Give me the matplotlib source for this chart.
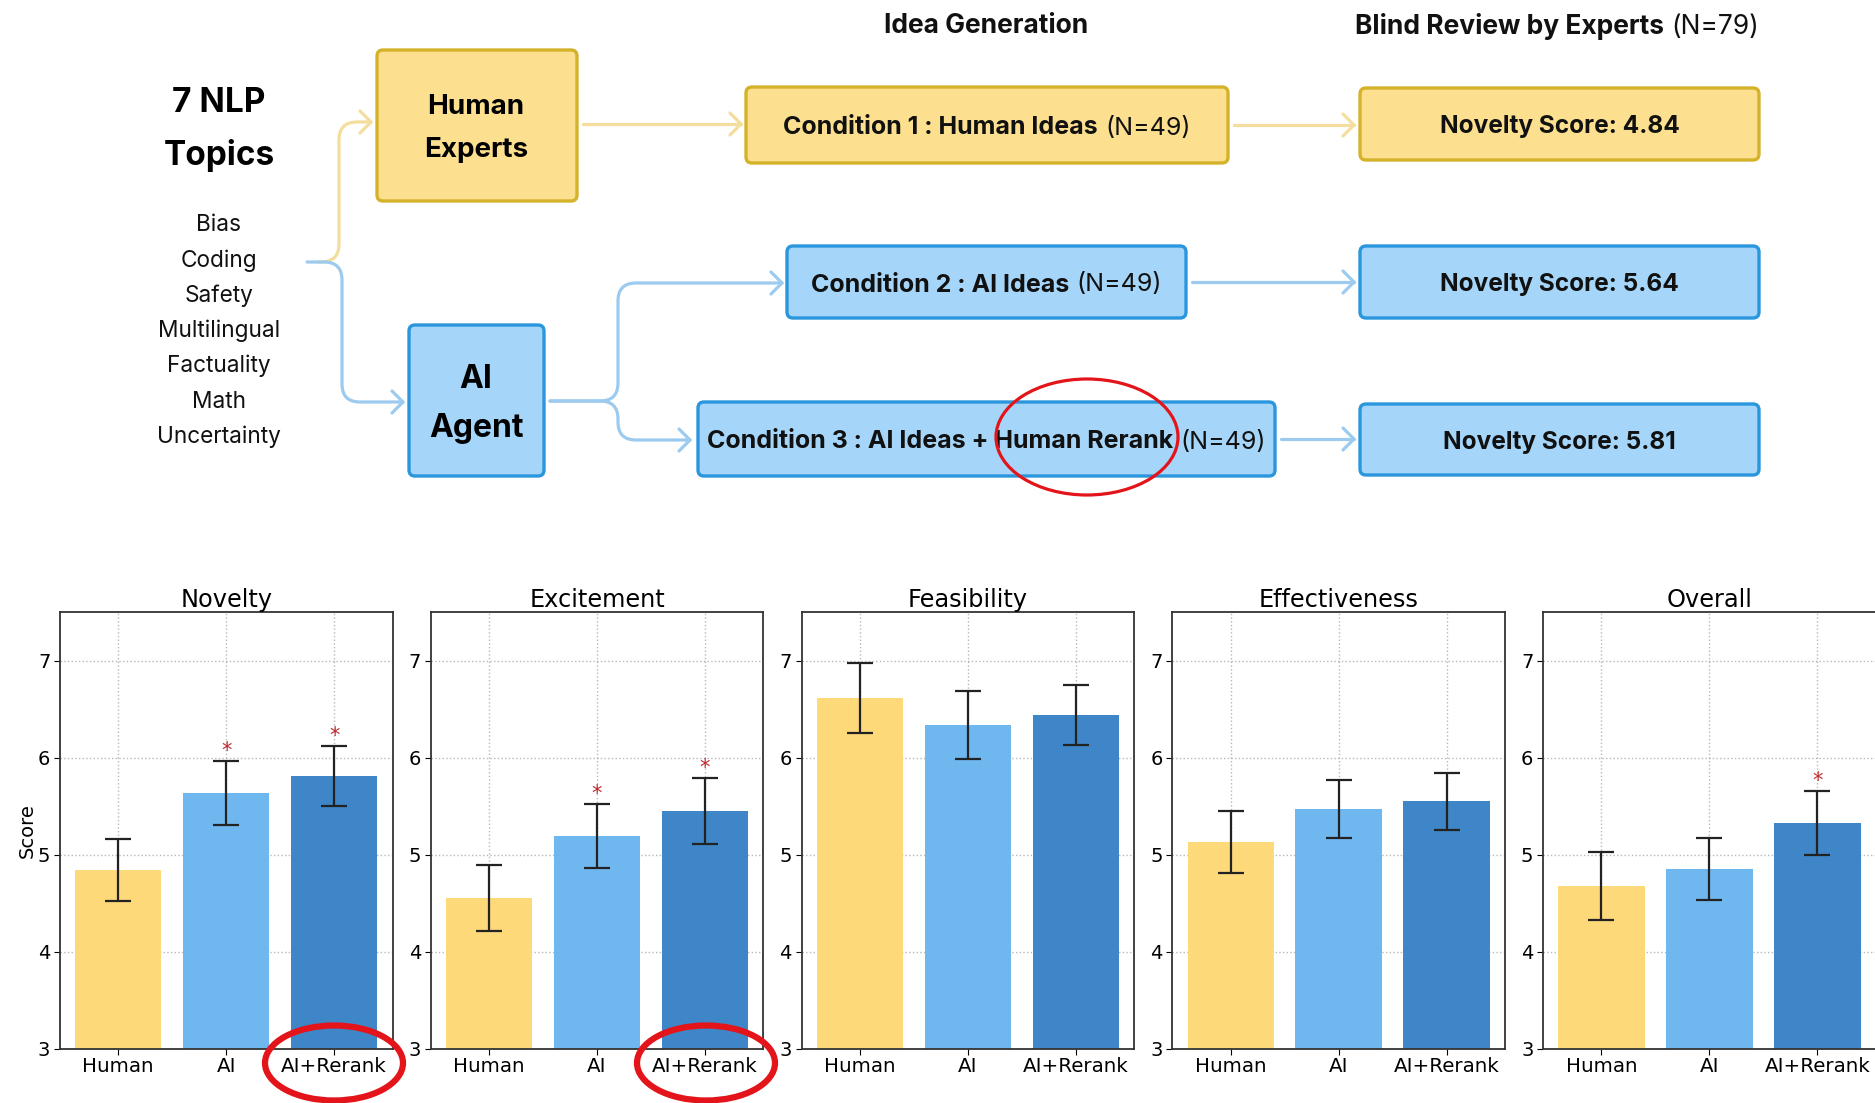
import numpy as np
import matplotlib
matplotlib.use("Agg")
import matplotlib.pyplot as plt
from matplotlib.patches import FancyBboxPatch, Ellipse, PathPatch
from matplotlib.path import Path
from matplotlib.offsetbox import TextArea, HPacker, AnnotationBbox

# ---------------- data ----------------
metrics = ["Novelty", "Excitement", "Feasibility", "Effectiveness", "Overall"]
conditions = ["Human", "AI", "AI+Rerank"]
novelty_mean = [4.84, 5.64, 5.81]
novelty_err = [0.32, 0.33, 0.31]
excitement_mean = [4.55, 5.19, 5.45]
excitement_err = [0.34, 0.33, 0.34]
feasibility_mean = [6.61, 6.34, 6.44]
feasibility_err = [0.36, 0.35, 0.31]
effectiveness_mean = [5.13, 5.47, 5.55]
effectiveness_err = [0.32, 0.30, 0.29]
overall_mean = [4.68, 4.85, 5.33]
overall_err = [0.35, 0.32, 0.33]
novelty_sig = [False, True, True]
excitement_sig = [False, True, True]
feasibility_sig = [False, False, False]
effectiveness_sig = [False, False, False]
overall_sig = [False, False, True]

topics = ["Bias", "Coding", "Safety", "Multilingual", "Factuality", "Math", "Uncertainty"]
cond_titles = ["Condition 1 : Human Ideas", "Condition 2 : AI Ideas",
               "Condition 3 : AI Ideas + Human Rerank"]
cond_n = [49, 49, 49]
box_novelty_scores = [4.84, 5.64, 5.81]
n_reviewers = 79

means = [novelty_mean, excitement_mean, feasibility_mean, effectiveness_mean, overall_mean]
errs = [novelty_err, excitement_err, feasibility_err, effectiveness_err, overall_err]
sigs = [novelty_sig, excitement_sig, feasibility_sig, effectiveness_sig, overall_sig]

bar_colors = ["#FDD97A", "#6FB7EF", "#3E86C7"]

W, H = 1875, 1103
fig = plt.figure(figsize=(W / 100, H / 100), dpi=100)
fig.patch.set_facecolor("white")

# ---------------- bar panels ----------------
left0 = 60 / W
aw = 332.5 / W
step = 370.8 / W
ab = 1 - 1049 / H
ah = (1049 - 612) / H
axes = []
for i, m in enumerate(metrics):
    ax = fig.add_axes([left0 + i * step, ab, aw, ah])
    x = np.arange(len(conditions))
    ax.bar(x, means[i], width=0.8, color=bar_colors, zorder=2)
    ax.errorbar(x, means[i], yerr=errs[i], fmt="none", ecolor="#222222",
                elinewidth=1.6, capsize=9.5, capthick=1.6, zorder=3)
    for j in range(len(conditions)):
        if sigs[i][j]:
            ax.text(x[j], means[i][j] + errs[i][j] + 0.0, "*", color="#C0282D",
                    ha="center", va="bottom", fontsize=15, zorder=4)
    ax.set_ylim(3, 7.5)
    ax.set_yticks([3, 4, 5, 6, 7])
    ax.set_xticks(x)
    ax.set_xticklabels(conditions, fontsize=14.3)
    ax.tick_params(axis="y", labelsize=14, length=4, pad=3)
    ax.tick_params(axis="x", length=4, pad=2)
    ax.grid(True, linestyle=":", color="#999999", linewidth=1.0, alpha=0.7, zorder=0)
    ax.set_axisbelow(True)
    ax.set_title(m, fontsize=17.3, pad=3)
    for s in ax.spines.values():
        s.set_color("#333333")
        s.set_linewidth(1.3)
    if i == 0:
        ax.set_ylabel("Score", fontsize=14, labelpad=1)
    axes.append(ax)

# ---------------- diagram overlay ----------------
ad = fig.add_axes([0, 0, 1, 1])
ad.set_xlim(0, W)
ad.set_ylim(H, 0)
ad.axis("off")
ad.set_zorder(10)
ad.patch.set_visible(False)

DF = ["Inter", "DejaVu Sans"]
Y_FILL, Y_EDGE, Y_LINE = "#FDE08F", "#D4B22A", "#F3DE9E"
B_FILL, B_EDGE, B_LINE = "#A5D6F9", "#2A96DD", "#9CCBEF"


def box(x0, y0, x1, y1, fc, ec):
    p = FancyBboxPatch((x0, y0), x1 - x0, y1 - y0,
                       boxstyle="round,pad=0,rounding_size=6",
                       fc=fc, ec=ec, lw=2.4, zorder=2)
    ad.add_patch(p)


def rounded(points, r):
    verts = [points[0]]
    codes = [Path.MOVETO]
    for k in range(1, len(points) - 1):
        p0, p1, p2 = (np.array(points[k - 1], float), np.array(points[k], float),
                      np.array(points[k + 1], float))
        d1 = (p1 - p0) / np.linalg.norm(p1 - p0)
        d2 = (p2 - p1) / np.linalg.norm(p2 - p1)
        a = p1 - d1 * r
        b = p1 + d2 * r
        verts += [tuple(a), tuple(p1), tuple(b)]
        codes += [Path.LINETO, Path.CURVE3, Path.CURVE3]
    verts.append(points[-1])
    codes.append(Path.LINETO)
    return Path(verts, codes)


def arrow(points, color, r=18):
    ad.add_patch(PathPatch(rounded(points, r), fc="none", ec=color, lw=2.3,
                           capstyle="round", joinstyle="round", zorder=1))
    tx, ty = points[-1]
    ad.plot([tx - 11, tx, tx - 11], [ty - 11, ty, ty + 11], color=color, lw=2.3,
            solid_capstyle="round", solid_joinstyle="round", zorder=1)


def mixed_text(xc, yc, bold, regular, size):
    parts = [TextArea(bold, textprops=dict(fontsize=size, fontweight="bold",
                                           family=DF, color="#111111"))]
    if regular:
        parts.append(TextArea(regular, textprops=dict(fontsize=size, family=DF,
                                                      color="#111111")))
    pack = HPacker(children=parts, align="baseline", pad=0, sep=5)
    ab_ = AnnotationBbox(pack, (xc, yc), xycoords="data", frameon=False,
                         box_alignment=(0.5, 0.5), pad=0, zorder=5)
    ad.add_artist(ab_)


# headers
mixed_text(986, 26, "Idea Generation", None, 19)
mixed_text(1557, 26, "Blind Review by Experts", f"(N={n_reviewers})", 19)

# topics
ad.text(219, 103, "7 NLP", fontsize=24, fontweight="bold", family=DF,
        ha="center", va="center")
ad.text(219, 156, "Topics", fontsize=24, fontweight="bold", family=DF,
        ha="center", va="center")
for k, t in enumerate(topics):
    ad.text(219, 225 + k * 35.3, t, fontsize=16.3, family=DF, ha="center", va="center",
            color="#111111")

# left boxes
box(377, 50, 577, 201, Y_FILL, Y_EDGE)
ad.text(476, 107, "Human", fontsize=20, fontweight="bold", family=DF, ha="center", va="center")
ad.text(476, 150, "Experts", fontsize=20, fontweight="bold", family=DF, ha="center", va="center")
box(409, 325, 544, 476, B_FILL, B_EDGE)
ad.text(476, 380, "AI", fontsize=23, fontweight="bold", family=DF, ha="center", va="center")
ad.text(476, 429, "Agent", fontsize=23, fontweight="bold", family=DF, ha="center", va="center")

# condition boxes
cond_boxes = [(746, 87, 1228, 163), (787, 246, 1186, 318), (698, 402, 1275, 476)]
score_boxes = [(1360, 88, 1759, 160), (1360, 246, 1759, 318), (1360, 404, 1759, 475)]
fills = [(Y_FILL, Y_EDGE, Y_LINE), (B_FILL, B_EDGE, B_LINE), (B_FILL, B_EDGE, B_LINE)]
for k in range(3):
    fc, ec, lc = fills[k]
    x0, y0, x1, y1 = cond_boxes[k]
    box(x0, y0, x1, y1, fc, ec)
    mixed_text((x0 + x1) / 2, (y0 + y1) / 2 + 3, cond_titles[k], f"(N={cond_n[k]})", 18)
    sx0, sy0, sx1, sy1 = score_boxes[k]
    box(sx0, sy0, sx1, sy1, fc, ec)
    mixed_text((sx0 + sx1) / 2, (sy0 + sy1) / 2 + 3,
               f"Novelty Score: {box_novelty_scores[k]:.2f}", None, 17.6)
    yc = (y0 + y1) / 2
    arrow([(x1 + 6, yc), (sx0 - 6, yc)], lc)

# connector arrows
arrow([(583, 124), (741, 124)], Y_LINE)
arrow([(318, 262), (339, 262), (339, 122), (371, 122)], Y_LINE)
arrow([(307, 262), (342, 262), (342, 402), (403, 402)], B_LINE)
arrow([(550, 401), (618, 401), (618, 283), (782, 283)], B_LINE)
arrow([(550, 401), (618, 401), (618, 440), (690, 440)], B_LINE)

# red highlight ellipses
ad.add_patch(Ellipse((1087, 437), 182, 116, fc="none", ec="#E3151B", lw=2.3, zorder=6))
ad.add_patch(Ellipse((334, 1063), 138, 75, fc="none", ec="#E3151B", lw=4.5, zorder=6))
ad.add_patch(Ellipse((706, 1063), 138, 75, fc="none", ec="#E3151B", lw=4.5, zorder=6))

fig.savefig("out.png", dpi=100, facecolor="white")
